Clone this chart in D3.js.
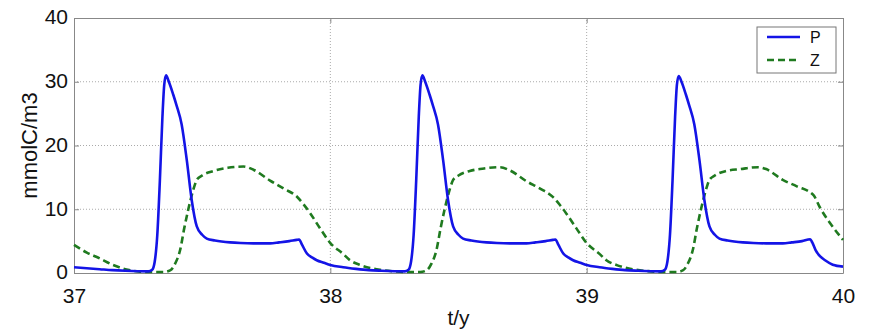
<!DOCTYPE html>
<html><head><meta charset="utf-8">
<script src="https://cdn.jsdelivr.net/npm/d3@7"></script>
<style>body{margin:0;background:#fff}svg{display:block}</style>
</head><body>
<script>
// Time points and values
const pTime = [37.00,37.05,37.10,37.15,37.20,37.25,37.29,37.305,37.315,37.325,37.335,37.345,37.352,37.359,37.37,37.387,37.40,37.42,37.44,37.459,37.479,37.50,37.518,37.55,37.609,37.65,37.70,37.765,37.80,37.84,37.869,37.878,37.89,37.908,37.93,37.947,37.975,
 38.00,38.05,38.10,38.15,38.20,38.25,38.29,38.305,38.315,38.325,38.335,38.345,38.352,38.359,38.37,38.387,38.40,38.42,38.44,38.459,38.479,38.50,38.518,38.55,38.609,38.65,38.70,38.765,38.80,38.84,38.869,38.878,38.89,38.908,38.93,38.947,38.975,
 39.00,39.05,39.10,39.15,39.20,39.25,39.29,39.305,39.315,39.325,39.335,39.345,39.352,39.359,39.37,39.387,39.40,39.42,39.44,39.459,39.479,39.50,39.518,39.55,39.609,39.65,39.70,39.765,39.80,39.84,39.872,39.88,39.893,39.911,39.93,39.96,40.00];
const pValues = [0.9,0.75,0.6,0.45,0.35,0.28,0.25,0.5,1.8,6.0,14.5,24.5,29.5,31.0,30.0,28.0,26.3,23.3,17.7,11.5,7.3,6.0,5.4,5.1,4.8,4.7,4.65,4.65,4.8,5.0,5.2,5.25,4.4,3.1,2.4,2.0,1.6,
 1.25,0.9,0.65,0.45,0.35,0.28,0.25,0.5,1.8,6.0,14.5,24.5,29.5,31.0,30.0,28.0,26.3,23.3,17.7,11.5,7.3,6.0,5.4,5.1,4.8,4.7,4.65,4.65,4.8,5.0,5.2,5.25,4.4,3.1,2.4,2.0,1.6,
 1.25,0.9,0.65,0.45,0.35,0.28,0.25,0.5,1.8,6.0,14.5,24.5,29.5,30.9,30.0,28.0,26.3,23.3,17.7,11.5,7.3,6.0,5.4,5.1,4.8,4.7,4.65,4.65,4.8,5.0,5.3,4.8,3.6,2.6,2.0,1.3,1.0];
const zTime = [37.00,37.05,37.10,37.15,37.20,37.25,37.30,37.35,37.375,37.395,37.414,37.43,37.446,37.465,37.479,37.50,37.544,37.60,37.661,37.70,37.765,37.82,37.869,37.895,37.921,37.96,
 38.00,38.05,38.077,38.12,38.194,38.25,38.30,38.35,38.375,38.395,38.414,38.43,38.446,38.465,38.479,38.50,38.544,38.60,38.661,38.70,38.765,38.82,38.869,38.895,38.921,38.96,
 39.00,39.05,39.077,39.12,39.194,39.25,39.30,39.35,39.375,39.395,39.414,39.43,39.446,39.465,39.479,39.50,39.544,39.60,39.669,39.70,39.765,39.82,39.885,39.911,39.95,40.00];
const zValues = [4.4,3.2,2.3,1.3,0.6,0.25,0.15,0.15,0.4,1.5,3.6,7.0,10.0,13.0,14.6,15.3,16.0,16.5,16.7,16.2,14.5,13.2,12.0,10.8,9.4,7.0,
 4.7,3.0,2.0,1.2,0.5,0.25,0.15,0.15,0.4,1.5,3.6,7.0,10.0,13.0,14.6,15.3,16.0,16.4,16.6,16.1,14.4,13.2,11.9,10.7,9.3,7.0,
 4.7,3.0,2.0,1.2,0.5,0.25,0.15,0.15,0.4,1.5,3.6,7.0,10.0,13.0,14.6,15.3,16.0,16.3,16.6,16.3,14.6,13.6,12.2,10.2,7.8,5.2];
const xTicks = [37,38,39,40];
const yTicks = [0,10,20,30,40];
const seriesNames = ["P","Z"];

const W = 871, H = 335;
const m = {left:74, top:18, right:871-843, bottom:335-273};
const FONT = "'Liberation Sans', Arial, sans-serif";
const svg = d3.select("body").append("svg").attr("width",W).attr("height",H)
  .style("font-family",FONT);
const x = d3.scaleLinear().domain([37,40]).range([m.left, W-m.right]);
const y = d3.scaleLinear().domain([0,40]).range([H-m.bottom, m.top]);

// grid
const grid = svg.append("g").attr("stroke","#aaa").attr("stroke-width",1).attr("stroke-dasharray","1,2");
grid.selectAll(".gy").data(yTicks.filter(d=>d>0&&d<40)).enter().append("line")
  .attr("x1",x(37)).attr("x2",x(40)).attr("y1",d=>y(d)).attr("y2",d=>y(d));
grid.selectAll(".gx").data(xTicks.filter(d=>d>37&&d<40)).enter().append("line")
  .attr("y1",y(0)).attr("y2",y(40)).attr("x1",d=>x(d)).attr("x2",d=>x(d));

// axes
const axB = svg.append("g").attr("transform",`translate(0,${y(0)})`)
  .call(d3.axisBottom(x).tickValues(xTicks).tickFormat(d3.format("d")).tickSizeInner(-5).tickSizeOuter(0).tickPadding(15));
const axL = svg.append("g").attr("transform",`translate(${x(37)},0)`)
  .call(d3.axisLeft(y).tickValues(yTicks).tickSizeInner(-5).tickSizeOuter(0).tickPadding(6));
const axT = svg.append("g").attr("transform",`translate(0,${y(40)})`)
  .call(d3.axisTop(x).tickValues(xTicks).tickFormat("").tickSizeInner(-5).tickSizeOuter(0));
const axR = svg.append("g").attr("transform",`translate(${x(40)},0)`)
  .call(d3.axisRight(y).tickValues(yTicks).tickFormat("").tickSizeInner(-5).tickSizeOuter(0));
[axB,axL,axT,axR].forEach(a=>{
  a.selectAll("path,line").attr("stroke","#888");
  a.selectAll("text").attr("fill","#111").style("font-size","21px").style("font-family",FONT);
});
axB.selectAll("text").attr("dy","0.71em");
axL.selectAll("text").attr("dy","0.28em");

// lines
const lineP = d3.line().x((d,i)=>x(pTime[i])).y(d=>y(d)).curve(d3.curveMonotoneX);
const lineZ = d3.line().x((d,i)=>x(zTime[i])).y(d=>y(d)).curve(d3.curveMonotoneX);
svg.append("path").datum(zValues).attr("d",lineZ).attr("fill","none")
  .attr("stroke","#1f7a1f").attr("stroke-width",2.6).attr("stroke-dasharray","7,4");
svg.append("path").datum(pValues).attr("d",lineP).attr("fill","none")
  .attr("stroke","#1414e6").attr("stroke-width",2.6);

// axis labels
svg.append("text").attr("x",x(38.5)).attr("y",325).attr("text-anchor","middle")
  .style("font-size","21px").attr("fill","#111").text("t/y");
svg.append("text").attr("transform",`translate(37,${(y(0)+y(40))/2}) rotate(-90)`)
  .attr("text-anchor","middle").style("font-size","22px").attr("fill","#111").text("mmolC/m3");

// legend
const lg = svg.append("g");
lg.append("rect").attr("x",757).attr("y",27).attr("width",79).attr("height",46)
  .attr("fill","#fff").attr("stroke","#777").attr("stroke-width",1);
const lgItems = [{name:seriesNames[0],color:"#1414e6",dash:null},{name:seriesNames[1],color:"#1f7a1f",dash:"7,4"}];
lgItems.forEach((it,i)=>{
  const yy = 37 + i*23;
  lg.append("line").attr("x1",767).attr("x2",800).attr("y1",yy).attr("y2",yy)
    .attr("stroke",it.color).attr("stroke-width",2.6).attr("stroke-dasharray",it.dash);
  lg.append("text").attr("x",810).attr("y",yy+6).style("font-size","16px").attr("fill","#111").text(it.name);
});
</script>
</body></html>
